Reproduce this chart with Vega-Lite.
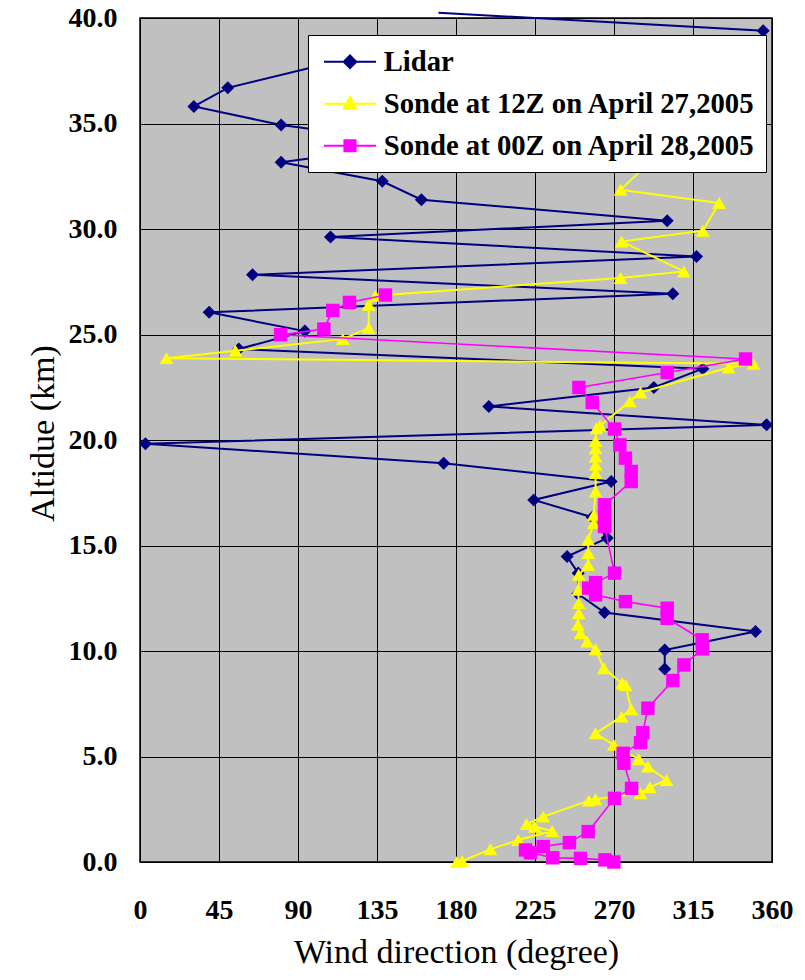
{
  "$schema": "https://vega.github.io/schema/vega-lite/v6.json",
  "width": 632,
  "height": 844,
  "autosize": {"type": "none"},
  "padding": {"left": 140, "top": 18, "right": 33, "bottom": 118},
  "background": "white",
  "config": {
    "view": {"fill": "#C0C0C0", "stroke": "black", "strokeWidth": 1.5},
    "font": "Liberation Serif",
    "axis": {"labelFont": "Liberation Serif", "titleFont": "Liberation Serif"}
  },
  "data": {
    "values": [
      {"s": "Lidar", "a": 40.25, "d": 170},
      {"s": "Lidar", "a": 39.4, "d": 355},
      {"s": "Lidar", "a": 38.6, "d": 352},
      {"s": "Lidar", "a": 37.9, "d": 110},
      {"s": "Lidar", "a": 36.69, "d": 50},
      {"s": "Lidar", "a": 35.81, "d": 30.7},
      {"s": "Lidar", "a": 34.93, "d": 80.4},
      {"s": "Lidar", "a": 34.05, "d": 160},
      {"s": "Lidar", "a": 33.16, "d": 80.4},
      {"s": "Lidar", "a": 32.26, "d": 138},
      {"s": "Lidar", "a": 31.39, "d": 160.3},
      {"s": "Lidar", "a": 30.39, "d": 300.3},
      {"s": "Lidar", "a": 29.62, "d": 108.5},
      {"s": "Lidar", "a": 28.7, "d": 317},
      {"s": "Lidar", "a": 27.83, "d": 64.1},
      {"s": "Lidar", "a": 26.93, "d": 303.5},
      {"s": "Lidar", "a": 26.05, "d": 39.4},
      {"s": "Lidar", "a": 25.16, "d": 93.9},
      {"s": "Lidar", "a": 24.31, "d": 56.3},
      {"s": "Lidar", "a": 23.38, "d": 320.6},
      {"s": "Lidar", "a": 22.49, "d": 292.7},
      {"s": "Lidar", "a": 21.59, "d": 198.7},
      {"s": "Lidar", "a": 20.72, "d": 356.9},
      {"s": "Lidar", "a": 19.82, "d": 3.1},
      {"s": "Lidar", "a": 18.9, "d": 173},
      {"s": "Lidar", "a": 18.03, "d": 268.4},
      {"s": "Lidar", "a": 17.16, "d": 224.3},
      {"s": "Lidar", "a": 16.34, "d": 257.6},
      {"s": "Lidar", "a": 15.35, "d": 266.1},
      {"s": "Lidar", "a": 14.48, "d": 243.3},
      {"s": "Lidar", "a": 13.69, "d": 249.6},
      {"s": "Lidar", "a": 12.71, "d": 249.4},
      {"s": "Lidar", "a": 11.82, "d": 264.6},
      {"s": "Lidar", "a": 10.92, "d": 350.6},
      {"s": "Lidar", "a": 10.05, "d": 298.9},
      {"s": "Lidar", "a": 9.15, "d": 298.9},

      {"s": "Sonde at 12Z on April 27,2005", "a": 0.0, "d": 180.5},
      {"s": "Sonde at 12Z on April 27,2005", "a": 0.05, "d": 183.5},
      {"s": "Sonde at 12Z on April 27,2005", "a": 0.6, "d": 199.6},
      {"s": "Sonde at 12Z on April 27,2005", "a": 1.04, "d": 215.4},
      {"s": "Sonde at 12Z on April 27,2005", "a": 1.47, "d": 234.8},
      {"s": "Sonde at 12Z on April 27,2005", "a": 1.67, "d": 224.9},
      {"s": "Sonde at 12Z on April 27,2005", "a": 1.8, "d": 220.2},
      {"s": "Sonde at 12Z on April 27,2005", "a": 2.15, "d": 229.7},
      {"s": "Sonde at 12Z on April 27,2005", "a": 2.91, "d": 255.7},
      {"s": "Sonde at 12Z on April 27,2005", "a": 2.97, "d": 259.4},
      {"s": "Sonde at 12Z on April 27,2005", "a": 3.26, "d": 285.1},
      {"s": "Sonde at 12Z on April 27,2005", "a": 3.54, "d": 290.4},
      {"s": "Sonde at 12Z on April 27,2005", "a": 3.89, "d": 299.9},
      {"s": "Sonde at 12Z on April 27,2005", "a": 4.52, "d": 289.3},
      {"s": "Sonde at 12Z on April 27,2005", "a": 4.87, "d": 284.1},
      {"s": "Sonde at 12Z on April 27,2005", "a": 5.55, "d": 269.9},
      {"s": "Sonde at 12Z on April 27,2005", "a": 6.1, "d": 259.5},
      {"s": "Sonde at 12Z on April 27,2005", "a": 6.89, "d": 274.3},
      {"s": "Sonde at 12Z on April 27,2005", "a": 7.24, "d": 279.8},
      {"s": "Sonde at 12Z on April 27,2005", "a": 8.39, "d": 276.6},
      {"s": "Sonde at 12Z on April 27,2005", "a": 8.47, "d": 274.7},
      {"s": "Sonde at 12Z on April 27,2005", "a": 9.18, "d": 264.2},
      {"s": "Sonde at 12Z on April 27,2005", "a": 10.08, "d": 259.5},
      {"s": "Sonde at 12Z on April 27,2005", "a": 10.45, "d": 254.7},
      {"s": "Sonde at 12Z on April 27,2005", "a": 10.84, "d": 250.9},
      {"s": "Sonde at 12Z on April 27,2005", "a": 11.24, "d": 249.4},
      {"s": "Sonde at 12Z on April 27,2005", "a": 11.79, "d": 249.9},
      {"s": "Sonde at 12Z on April 27,2005", "a": 12.27, "d": 249.9},
      {"s": "Sonde at 12Z on April 27,2005", "a": 12.9, "d": 249.6},
      {"s": "Sonde at 12Z on April 27,2005", "a": 13.61, "d": 249.9},
      {"s": "Sonde at 12Z on April 27,2005", "a": 14.08, "d": 255.3},
      {"s": "Sonde at 12Z on April 27,2005", "a": 14.64, "d": 255.3},
      {"s": "Sonde at 12Z on April 27,2005", "a": 15.27, "d": 255.3},
      {"s": "Sonde at 12Z on April 27,2005", "a": 16.06, "d": 258.5},
      {"s": "Sonde at 12Z on April 27,2005", "a": 16.45, "d": 258.5},
      {"s": "Sonde at 12Z on April 27,2005", "a": 17.56, "d": 259.5},
      {"s": "Sonde at 12Z on April 27,2005", "a": 18.43, "d": 259.5},
      {"s": "Sonde at 12Z on April 27,2005", "a": 18.82, "d": 259.5},
      {"s": "Sonde at 12Z on April 27,2005", "a": 19.22, "d": 259.5},
      {"s": "Sonde at 12Z on April 27,2005", "a": 19.61, "d": 259.5},
      {"s": "Sonde at 12Z on April 27,2005", "a": 19.95, "d": 259.5},
      {"s": "Sonde at 12Z on April 27,2005", "a": 20.56, "d": 260},
      {"s": "Sonde at 12Z on April 27,2005", "a": 20.68, "d": 262},
      {"s": "Sonde at 12Z on April 27,2005", "a": 21.83, "d": 279},
      {"s": "Sonde at 12Z on April 27,2005", "a": 22.25, "d": 285.1},
      {"s": "Sonde at 12Z on April 27,2005", "a": 23.44, "d": 335.4},
      {"s": "Sonde at 12Z on April 27,2005", "a": 23.61, "d": 349.3},
      {"s": "Sonde at 12Z on April 27,2005", "a": 23.88, "d": 15.1},
      {"s": "Sonde at 12Z on April 27,2005", "a": 24.23, "d": 54.4},
      {"s": "Sonde at 12Z on April 27,2005", "a": 24.78, "d": 115.5},
      {"s": "Sonde at 12Z on April 27,2005", "a": 25.31, "d": 130.3},
      {"s": "Sonde at 12Z on April 27,2005", "a": 26.41, "d": 130.3},
      {"s": "Sonde at 12Z on April 27,2005", "a": 26.84, "d": 134.1},
      {"s": "Sonde at 12Z on April 27,2005", "a": 27.68, "d": 273.7},
      {"s": "Sonde at 12Z on April 27,2005", "a": 27.99, "d": 309.8},
      {"s": "Sonde at 12Z on April 27,2005", "a": 29.41, "d": 274.3},
      {"s": "Sonde at 12Z on April 27,2005", "a": 29.92, "d": 320.6},
      {"s": "Sonde at 12Z on April 27,2005", "a": 31.23, "d": 329.9},
      {"s": "Sonde at 12Z on April 27,2005", "a": 31.86, "d": 273.7},
      {"s": "Sonde at 12Z on April 27,2005", "a": 33.3, "d": 292},

      {"s": "Sonde at 00Z on April 28,2005", "a": 0.0, "d": 269.9},
      {"s": "Sonde at 00Z on April 28,2005", "a": 0.1, "d": 264.8},
      {"s": "Sonde at 00Z on April 28,2005", "a": 0.17, "d": 250.9},
      {"s": "Sonde at 00Z on April 28,2005", "a": 0.2, "d": 235.1},
      {"s": "Sonde at 00Z on April 28,2005", "a": 0.44, "d": 222.4},
      {"s": "Sonde at 00Z on April 28,2005", "a": 0.57, "d": 219.6},
      {"s": "Sonde at 00Z on April 28,2005", "a": 0.73, "d": 229.7},
      {"s": "Sonde at 00Z on April 28,2005", "a": 0.92, "d": 244.6},
      {"s": "Sonde at 00Z on April 28,2005", "a": 1.44, "d": 255.3},
      {"s": "Sonde at 00Z on April 28,2005", "a": 3.02, "d": 270.3},
      {"s": "Sonde at 00Z on April 28,2005", "a": 3.49, "d": 280},
      {"s": "Sonde at 00Z on April 28,2005", "a": 4.68, "d": 275.6},
      {"s": "Sonde at 00Z on April 28,2005", "a": 5.15, "d": 275.2},
      {"s": "Sonde at 00Z on April 28,2005", "a": 5.66, "d": 285.1},
      {"s": "Sonde at 00Z on April 28,2005", "a": 6.13, "d": 286.4},
      {"s": "Sonde at 00Z on April 28,2005", "a": 7.29, "d": 289.3},
      {"s": "Sonde at 00Z on April 28,2005", "a": 8.6, "d": 303.5},
      {"s": "Sonde at 00Z on April 28,2005", "a": 9.34, "d": 309.8},
      {"s": "Sonde at 00Z on April 28,2005", "a": 10.1, "d": 320.4},
      {"s": "Sonde at 00Z on April 28,2005", "a": 10.53, "d": 320.2},
      {"s": "Sonde at 00Z on April 28,2005", "a": 11.55, "d": 300.3},
      {"s": "Sonde at 00Z on April 28,2005", "a": 12.03, "d": 300.3},
      {"s": "Sonde at 00Z on April 28,2005", "a": 12.34, "d": 276.5},
      {"s": "Sonde at 00Z on April 28,2005", "a": 12.66, "d": 259.5},
      {"s": "Sonde at 00Z on April 28,2005", "a": 12.98, "d": 255.6},
      {"s": "Sonde at 00Z on April 28,2005", "a": 13.24, "d": 259.5},
      {"s": "Sonde at 00Z on April 28,2005", "a": 13.69, "d": 270.3},
      {"s": "Sonde at 00Z on April 28,2005", "a": 15.9, "d": 264.6},
      {"s": "Sonde at 00Z on April 28,2005", "a": 16.37, "d": 264.6},
      {"s": "Sonde at 00Z on April 28,2005", "a": 16.93, "d": 264.6},
      {"s": "Sonde at 00Z on April 28,2005", "a": 18.03, "d": 279.8},
      {"s": "Sonde at 00Z on April 28,2005", "a": 18.51, "d": 279.8},
      {"s": "Sonde at 00Z on April 28,2005", "a": 19.14, "d": 276.5},
      {"s": "Sonde at 00Z on April 28,2005", "a": 19.77, "d": 273.3},
      {"s": "Sonde at 00Z on April 28,2005", "a": 20.52, "d": 270.3},
      {"s": "Sonde at 00Z on April 28,2005", "a": 21.78, "d": 257.6},
      {"s": "Sonde at 00Z on April 28,2005", "a": 22.49, "d": 250},
      {"s": "Sonde at 00Z on April 28,2005", "a": 23.2, "d": 300.3},
      {"s": "Sonde at 00Z on April 28,2005", "a": 23.84, "d": 344.9},
      {"s": "Sonde at 00Z on April 28,2005", "a": 24.99, "d": 80.1},
      {"s": "Sonde at 00Z on April 28,2005", "a": 25.26, "d": 104.7},
      {"s": "Sonde at 00Z on April 28,2005", "a": 26.14, "d": 109.8},
      {"s": "Sonde at 00Z on April 28,2005", "a": 26.52, "d": 119.3},
      {"s": "Sonde at 00Z on April 28,2005", "a": 26.87, "d": 139.8}
    ]
  },
  "encoding": {
    "x": {
      "field": "d", "type": "quantitative",
      "scale": {"domain": [0, 360], "nice": false, "zero": false},
      "axis": {
        "values": [0, 45, 90, 135, 180, 225, 270, 315, 360],
        "format": "d",
        "labelFlush": false,
        "labelOverlap": false,
        "labelFont": "Liberation Serif", "labelFontWeight": "bold", "labelFontSize": 28, "labelColor": "black",
        "labelPadding": 34,
        "ticks": false, "tickSize": 0, "domain": false,
        "grid": true, "gridColor": "black", "gridWidth": 1, "gridOpacity": 1,
        "title": "Wind direction (degree)",
        "titleFont": "Liberation Serif", "titleFontSize": 34, "titleFontWeight": "normal", "titleColor": "black",
        "titleBaseline": "alphabetic", "titleY": 100
      }
    },
    "y": {
      "field": "a", "type": "quantitative",
      "scale": {"domain": [0, 40], "nice": false, "zero": false},
      "axis": {
        "values": [0, 5, 10, 15, 20, 25, 30, 35, 40],
        "format": ".1f",
        "labelFlush": false,
        "labelOverlap": false,
        "labelFont": "Liberation Serif", "labelFontWeight": "bold", "labelFontSize": 28, "labelColor": "black",
        "labelPadding": 23,
        "ticks": false, "tickSize": 0, "domain": false,
        "grid": true, "gridColor": "black", "gridWidth": 1, "gridOpacity": 1,
        "title": "Altidue (km)",
        "titleFont": "Liberation Serif", "titleFontSize": 34, "titleFontWeight": "normal", "titleColor": "black",
        "titleAngle": -90, "titleBaseline": "alphabetic", "titleAlign": "center",
        "titleX": -87, "titleY": 415
      }
    },
    "color": {
      "field": "s", "type": "nominal",
      "scale": {
        "domain": ["Lidar", "Sonde at 12Z on April 27,2005", "Sonde at 00Z on April 28,2005"],
        "range": ["#000080", "#FFFF00", "#FF00FF"]
      },
      "legend": {
        "title": null,
        "orient": "none", "legendX": 168, "legendY": 17,
        "padding": 10.7,
        "fillColor": "white", "strokeColor": "black",
        "labelFont": "Liberation Serif", "labelFontWeight": "bold", "labelFontSize": 28.7, "labelColor": "black",
        "labelLimit": 700, "labelOffset": 33,
        "symbolSize": 900, "symbolStrokeWidth": 2, "rowPadding": 11,
        "symbolOpacity": 1,
        "encode": {
          "symbols": {
            "update": {
              "shape": {"signal": "datum.value == 'Lidar' ? 'M-0.713,0H2.753M1.02,-0.42L1.44,0L1.02,0.42L0.6,0Z' : datum.value == 'Sonde at 12Z on April 27,2005' ? 'M-0.713,0H2.753M1.02,-0.45L1.43,0.33L0.61,0.33Z' : 'M-0.713,0H2.753M0.65,-0.37H1.39V0.37H0.65Z'"},
              "fill": {"signal": "scale('color', datum.value)"},
              "stroke": {"signal": "scale('color', datum.value)"},
              "strokeWidth": {"value": 2},
              "opacity": {"value": 1},
              "fillOpacity": {"value": 1},
              "strokeOpacity": {"value": 1}
            }
          }
        }
      }
    },
    "order": {"field": "a", "type": "quantitative"}
  },
  "layer": [
    {"transform": [{"filter": "datum.s == 'Lidar'"}], "mark": {"type": "line", "clip": false, "strokeWidth": 2}},
    {"transform": [{"filter": "datum.s == 'Lidar'"}], "mark": {"type": "point", "shape": "diamond", "filled": true, "size": 170, "opacity": 1, "clip": true}},
    {"transform": [{"filter": "datum.s == 'Sonde at 12Z on April 27,2005'"}], "mark": {"type": "line", "clip": false, "strokeWidth": 2}},
    {"transform": [{"filter": "datum.s == 'Sonde at 12Z on April 27,2005'"}], "mark": {"type": "point", "shape": "triangle-up", "filled": true, "size": 190, "opacity": 1, "clip": false}},
    {"transform": [{"filter": "datum.s == 'Sonde at 00Z on April 28,2005'"}], "mark": {"type": "line", "clip": false, "strokeWidth": 1.6}},
    {"transform": [{"filter": "datum.s == 'Sonde at 00Z on April 28,2005'"}], "mark": {"type": "point", "shape": "square", "filled": true, "size": 180, "opacity": 1, "clip": false}}
  ]
}
